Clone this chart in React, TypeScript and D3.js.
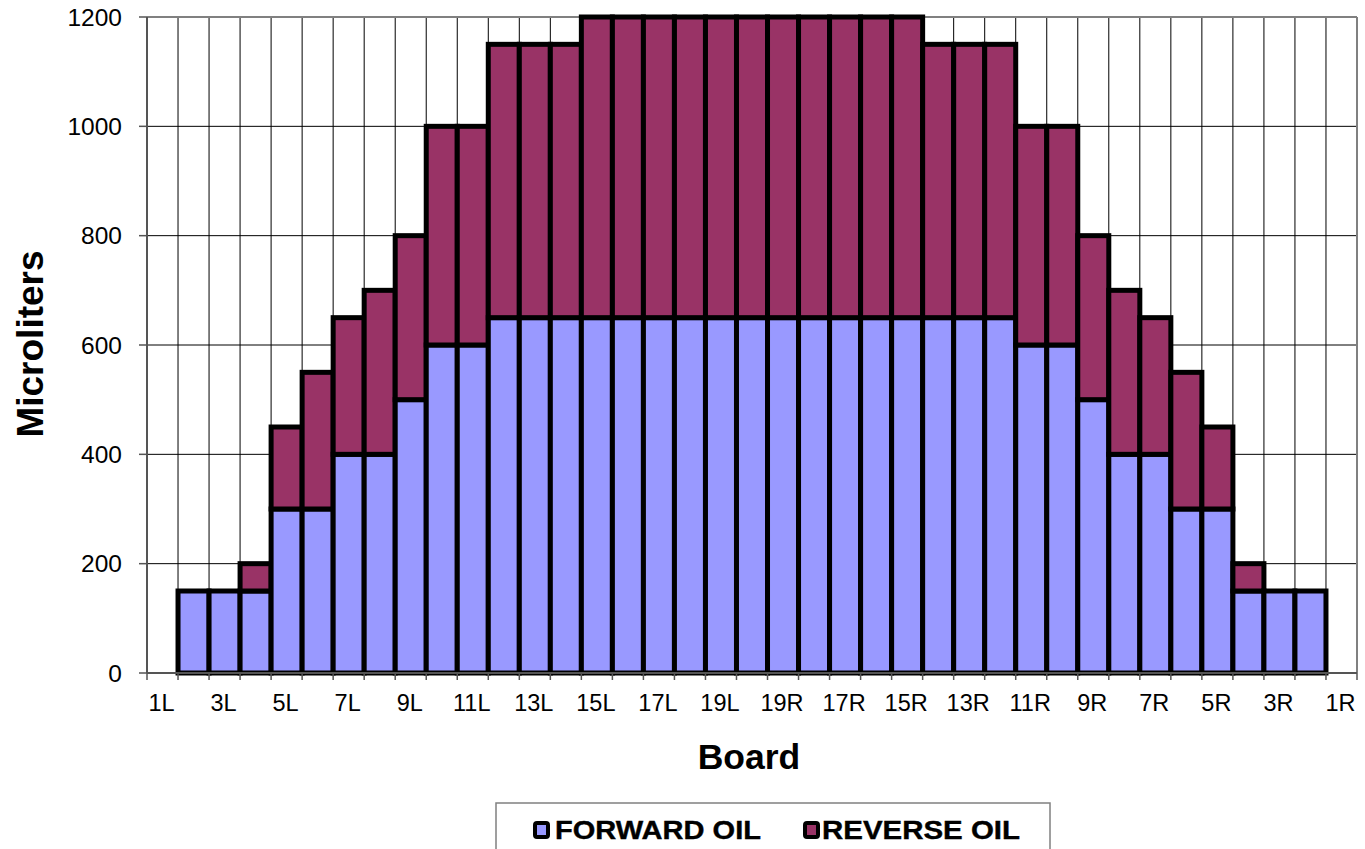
import React from "react";
import * as d3 from "d3";

const boards: string[] = [
  "1L","2L","3L","4L","5L","6L","7L","8L","9L","10L","11L","12L","13L","14L","15L","16L","17L","18L","19L","20",
  "19R","18R","17R","16R","15R","14R","13R","12R","11R","10R","9R","8R","7R","6R","5R","4R","3R","2R","1R"
];
const tickLabels: string[] = ["1L","3L","5L","7L","9L","11L","13L","15L","17L","19L","19R","17R","15R","13R","11R","9R","7R","5R","3R","1R"];
const forwardOil: number[] = [0,150,150,150,300,300,400,400,500,600,600,650,650,650,650,650,650,650,650,650,650,650,650,650,650,650,650,650,600,600,500,400,400,300,300,150,150,150,0];
const reverseOil: number[] = [0,0,0,50,150,250,250,300,300,400,400,500,500,500,550,550,550,550,550,550,550,550,550,550,550,500,500,500,400,400,300,300,250,250,150,50,0,0,0];
const yTicks: number[] = [0,200,400,600,800,1000,1200];
const seriesNames = ["FORWARD OIL", "REVERSE OIL"];
const colors = ["#9999FF", "#993366"];

const W = 1365, H = 849;
const left = 147, right = 1357, top = 17, bottom = 673;
const FONT = "Liberation Sans, Arial, sans-serif";

export default function App() {
  const x = d3.scaleBand<string>().domain(boards).range([left, right]).padding(0);
  const y = d3.scaleLinear().domain([0, 1200]).range([bottom, top]);
  const bw = x.bandwidth();
  const stacked = boards.map((b, i) => ({ b, f: forwardOil[i], r: reverseOil[i] }));
  const legendPos = [
    { sx: 535, tx: 555, len: 206 },
    { sx: 805, tx: 822, len: 198 },
  ];

  return (
    <svg width={W} height={H} style={{ position: "absolute", left: 0, top: 0, background: "#fff" }} fontFamily={FONT}>
      {/* horizontal gridlines */}
      {yTicks.slice(1, -1).map((t) => (
        <line key={"hg" + t} x1={left} x2={right} y1={y(t)} y2={y(t)} stroke="#000" strokeWidth={1} />
      ))}
      {/* vertical gridlines */}
      {boards.slice(1).map((b) => (
        <line key={"vg" + b} x1={x(b)!} x2={x(b)!} y1={top} y2={bottom} stroke="#000" strokeWidth={1} />
      ))}
      {/* plot border */}
      <line x1={left} x2={right} y1={top} y2={top} stroke="#808080" strokeWidth={2} />
      <line x1={right} x2={right} y1={top} y2={bottom} stroke="#808080" strokeWidth={2} />
      {/* bars */}
      {stacked.map((d) => (
        <g key={"bar" + d.b}>
          {d.f > 0 && (
            <rect x={x(d.b)!} y={y(d.f)} width={bw} height={y(0) - y(d.f)} fill={colors[0]} stroke="#000" strokeWidth={5} />
          )}
          {d.r > 0 && (
            <rect x={x(d.b)!} y={y(d.f + d.r)} width={bw} height={y(d.f) - y(d.f + d.r)} fill={colors[1]} stroke="#000" strokeWidth={5} />
          )}
        </g>
      ))}
      {/* y axis */}
      <line x1={left} x2={left} y1={top} y2={bottom} stroke="#555" strokeWidth={2} />
      {yTicks.map((t) => (
        <g key={"yt" + t}>
          <line x1={left - 8} x2={left} y1={y(t)} y2={y(t)} stroke="#555" strokeWidth={1.5} />
          <text x={left - 25} y={y(t)} dy="0.35em" textAnchor="end" fontSize={24.5} fill="#000">{t}</text>
        </g>
      ))}
      {/* x axis */}
      <line x1={left} x2={right} y1={bottom} y2={bottom} stroke="#555" strokeWidth={2} />
      {boards.map((b) => (
        <line key={"xt" + b} x1={x(b)!} x2={x(b)!} y1={bottom} y2={bottom + 7} stroke="#555" strokeWidth={1.5} />
      ))}
      <line x1={right} x2={right} y1={bottom} y2={bottom + 7} stroke="#555" strokeWidth={1.5} />
      {boards.map((b, i) => (i % 2 === 0 ? (
        <text key={"xl" + b} x={x(b)! + bw / 2 - 1} y={711} textAnchor="middle" fontSize={23.5} fill="#000">{tickLabels[i / 2]}</text>
      ) : null))}
      {/* axis titles */}
      <text x={749} y={769} textAnchor="middle" fontSize={35.5} fontWeight="bold" fill="#000">Board</text>
      <text transform={`translate(43,344) rotate(-90)`} textAnchor="middle" fontSize={37} fontWeight="bold" fill="#000">Microliters</text>
      {/* legend */}
      <rect x={496} y={803} width={554} height={60} fill="#fff" stroke="#808080" strokeWidth={1.5} />
      {seriesNames.map((s, i) => {
        const p = legendPos[i];
        return (
          <g key={"lg" + s}>
            <rect x={p.sx} y={823} width={13} height={14} rx={2} fill={colors[i]} stroke="#000" strokeWidth={4} />
            <text x={p.tx} y={839} fontSize={26.5} fontWeight="bold" textLength={p.len} lengthAdjust="spacingAndGlyphs" stroke="#000" strokeWidth={0.4} fill="#000">{s}</text>
          </g>
        );
      })}
    </svg>
  );
}
